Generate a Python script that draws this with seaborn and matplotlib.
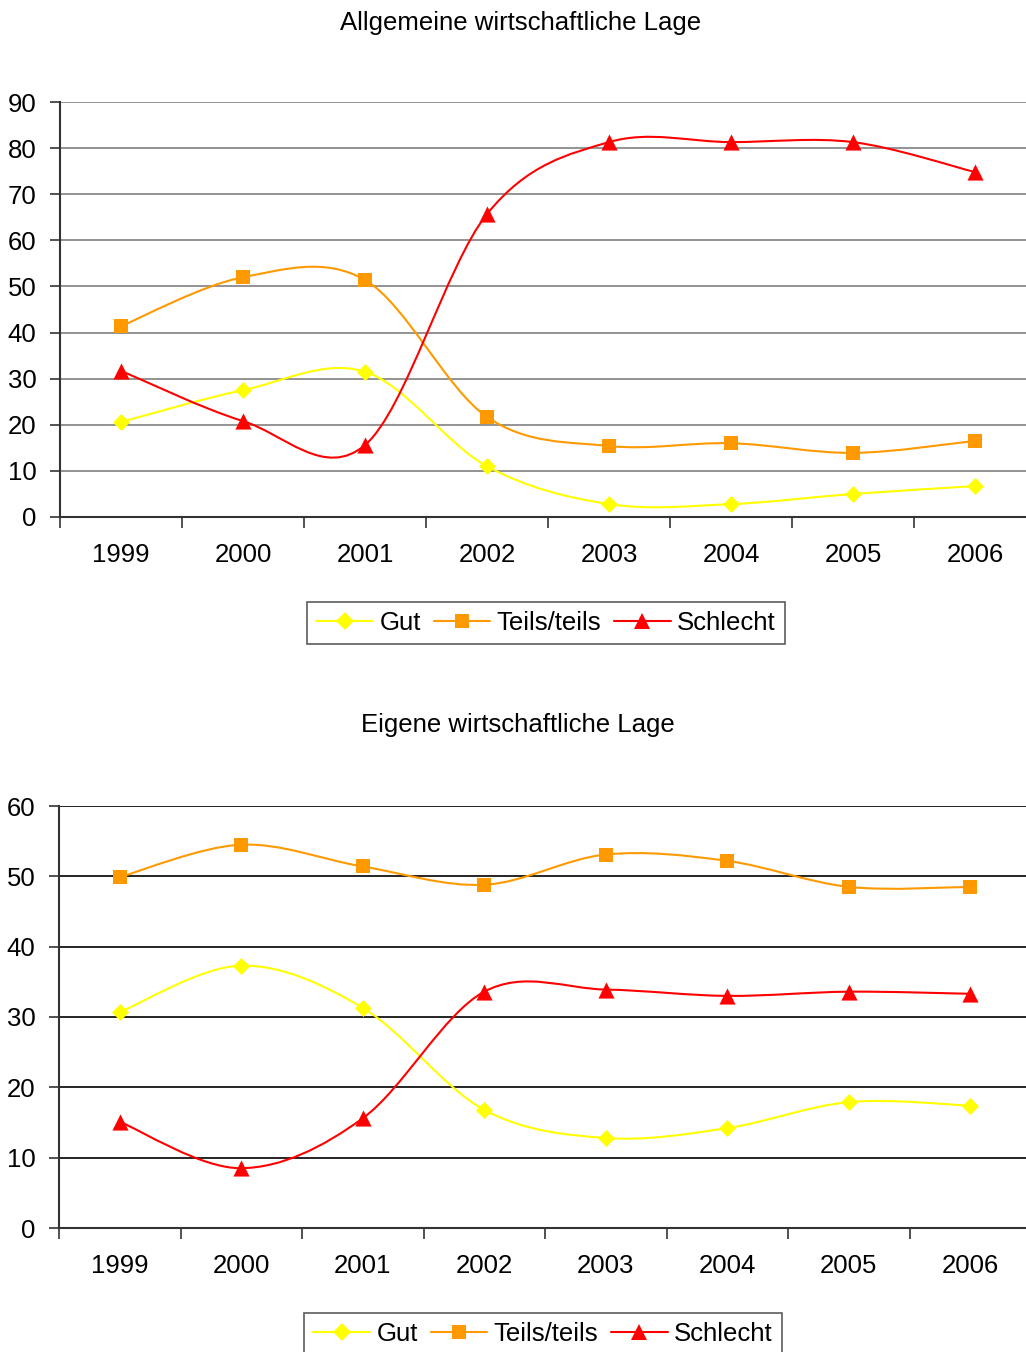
import numpy as np
import pandas as pd
import matplotlib
matplotlib.use("Agg")
import matplotlib.pyplot as plt
import seaborn as sns
from matplotlib.path import Path
from matplotlib.patches import PathPatch
from matplotlib.lines import Line2D

years = ["1999", "2000", "2001", "2002", "2003", "2004", "2005", "2006"]
series_names = ["Gut", "Teils/teils", "Schlecht"]

allg_gut = [20.6, 27.5, 31.5, 11.0, 2.8, 2.8, 5.0, 6.7]
allg_teils = [41.4, 52.0, 51.4, 21.7, 15.4, 16.0, 13.9, 16.5]
allg_schlecht = [31.7, 20.8, 15.6, 65.7, 81.3, 81.3, 81.3, 74.8]

eig_gut = [30.7, 37.3, 31.3, 16.8, 12.8, 14.2, 17.9, 17.4]
eig_teils = [49.9, 54.5, 51.4, 48.8, 53.1, 52.2, 48.5, 48.5]
eig_schlecht = [15.1, 8.5, 15.6, 33.6, 33.9, 33.0, 33.6, 33.3]

colors = {"Gut": "#FFFF00", "Teils/teils": "#FF9900", "Schlecht": "#FF0000"}
markers = {"Gut": "D", "Teils/teils": "s", "Schlecht": "^"}
msizes = {"Gut": 75, "Teils/teils": 95, "Schlecht": 135}

sns.set_style("white")
plt.rcParams["font.family"] = ["Liberation Sans", "DejaVu Sans"]
plt.rcParams["text.color"] = "black"
plt.rcParams["xtick.color"] = "black"
plt.rcParams["ytick.color"] = "black"

FS = 18.5

fig = plt.figure(figsize=(10.26, 13.52), dpi=100)


def smooth_path(xs, ys):
    pts = np.column_stack([xs, ys])
    n = len(pts)
    verts = [pts[0]]
    codes = [Path.MOVETO]
    for i in range(n - 1):
        p0 = pts[i - 1] if i > 0 else pts[i]
        p1 = pts[i]
        p2 = pts[i + 1]
        p3 = pts[i + 2] if i + 2 < n else pts[i + 1]
        c1 = p1 + (p2 - p0) / 6.0
        c2 = p2 - (p3 - p1) / 6.0
        verts += [c1, c2, p2]
        codes += [Path.CURVE4] * 3
    return Path(verts, codes)


def draw(ax, data, ymax, gridcolor):
    xs = np.arange(len(years)) + 0.5
    rows = []
    for name, vals in zip(series_names, data):
        for x, v in zip(xs, vals):
            rows.append({"x": x, "y": v, "series": name})
        ax.add_patch(PathPatch(smooth_path(xs, vals), fill=False,
                               edgecolor=colors[name], lw=1.5, zorder=3))
    df = pd.DataFrame(rows)
    for name in series_names:
        sub = df[df.series == name]
        sns.scatterplot(data=sub, x="x", y="y", ax=ax, color=colors[name],
                        marker=markers[name], s=msizes[name], linewidth=0,
                        zorder=4, legend=False)
    ax.set_xlim(0, 8)
    ax.set_ylim(0, ymax)
    ax.set_xlabel("")
    ax.set_ylabel("")
    ax.set_yticks(np.arange(0, ymax + 1, 10))
    ax.set_xticks(xs)
    ax.set_xticklabels(years)
    ax.set_xticks(np.arange(0, 9), minor=True)
    ax.tick_params(axis="x", which="major", length=0, pad=19, labelsize=FS,
                   labelcolor="black")
    ax.tick_params(axis="x", which="minor", length=8, width=1.2,
                   direction="out", color="#333333", bottom=True)
    ax.tick_params(axis="y", length=7, width=1.2, direction="out",
                   color="#333333", labelsize=FS, pad=10, left=True,
                   labelcolor="black")
    for y in np.arange(10, ymax + 1, 10):
        ax.axhline(y, color=gridcolor, lw=1.2, zorder=1)
    for s in ["top", "right"]:
        ax.spines[s].set_visible(False)
    for s in ["left", "bottom"]:
        ax.spines[s].set_color("#333333")
        ax.spines[s].set_linewidth(1.5)


ax1 = fig.add_axes([60 / 1026, 1 - 517 / 1352, 976 / 1026, 415 / 1352])
draw(ax1, [allg_gut, allg_teils, allg_schlecht], 90, "#808080")
ax2 = fig.add_axes([59 / 1026, 1 - 1228 / 1352, 972 / 1026, 422 / 1352])
draw(ax2, [eig_gut, eig_teils, eig_schlecht], 60, "#000000")

fig.text(521 / 1026, 1 - 23 / 1352, "Allgemeine wirtschaftliche Lage",
         ha="center", va="center", fontsize=FS, color="black")
fig.text(518 / 1026, 1 - 725 / 1352, "Eigene wirtschaftliche Lage",
         ha="center", va="center", fontsize=FS, color="black")

handles = [Line2D([0], [0], color=colors[n], marker=markers[n], lw=1.5,
                  markersize={"Gut": 9, "Teils/teils": 10, "Schlecht": 12}[n],
                  markeredgewidth=0) for n in series_names]

for cx, cy in [(546 / 1026, 1 - 623 / 1352), (543 / 1026, 1 - 1334 / 1352)]:
    leg = fig.legend(handles, series_names, loc="center",
                     bbox_to_anchor=(cx, cy), ncol=3, fontsize=FS,
                     frameon=True, fancybox=False, edgecolor="#333333",
                     handlelength=2.2, handletextpad=0.25, columnspacing=0.5,
                     borderpad=0.35, borderaxespad=0, labelcolor="black")
    leg.get_frame().set_linewidth(1.2)

fig.savefig("out.png", dpi=100, facecolor="white")
